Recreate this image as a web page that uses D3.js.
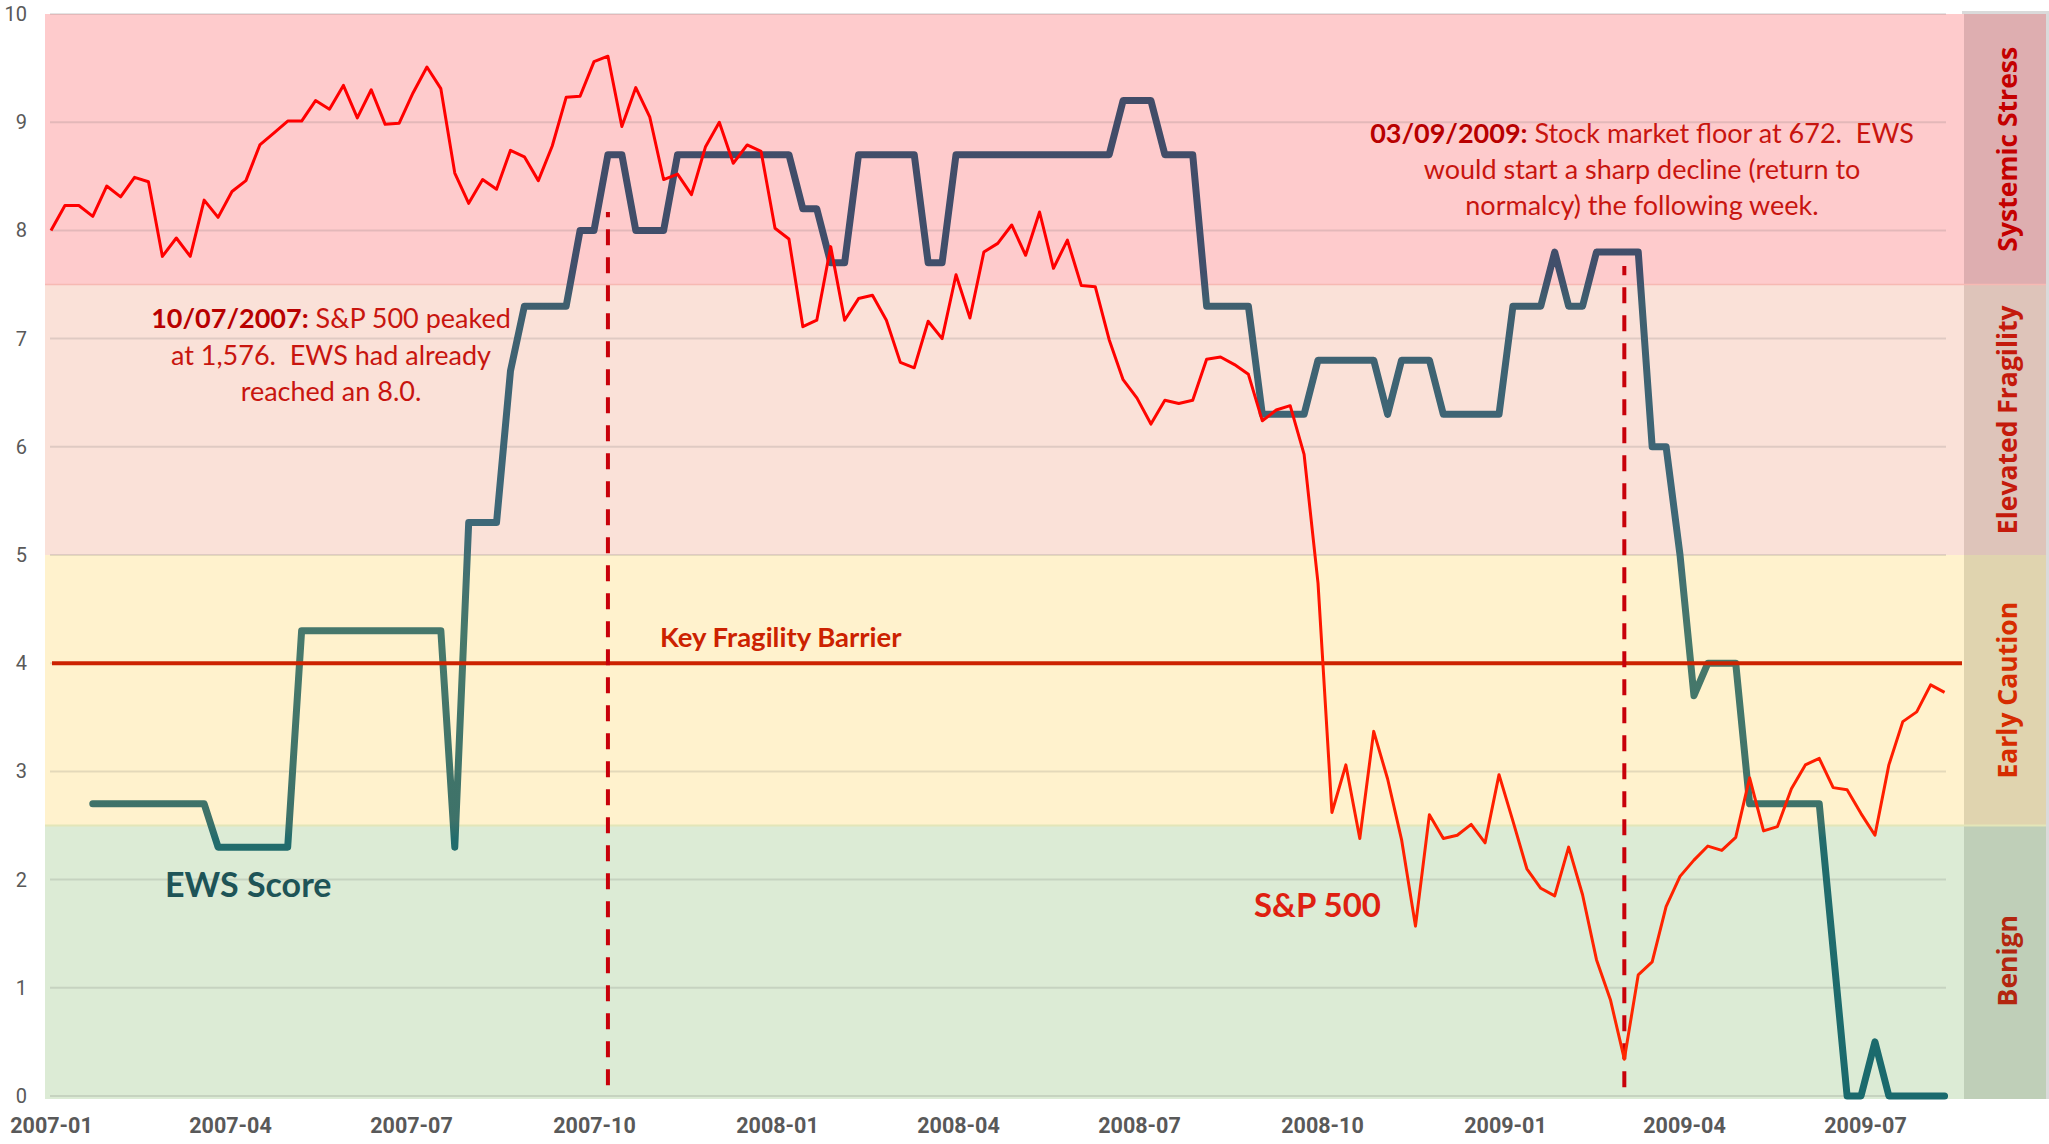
<!DOCTYPE html>
<html>
<head>
<meta charset="utf-8">
<script src="https://cdn.jsdelivr.net/npm/d3@7"></script>
<style>
  html, body { margin: 0; padding: 0; background: #ffffff; }
  svg { display: block; }
  text { white-space: pre; }
</style>
</head>
<body>
<svg id="chart" width="2049" height="1144"></svg>
<script>
// ---------------- DATA ----------------
const firstWeek = "2007-01-01";   // weekly observations start here

// S&P 500 (scaled to the 0-10 chart axis), one value per week
const sp500 = [
  8.00, 8.23, 8.23, 8.13, 8.41, 8.31, 8.49, 8.45, 7.76, 7.93,
  7.76, 8.28, 8.12, 8.36, 8.46, 8.79, 8.90, 9.01, 9.01, 9.20,
  9.12, 9.34, 9.04, 9.30, 8.98, 8.99, 9.27, 9.51, 9.31, 8.53,
  8.25, 8.47, 8.38, 8.74, 8.68, 8.46, 8.78, 9.23, 9.24, 9.56,
  9.61, 8.96, 9.32, 9.05, 8.47, 8.52, 8.33, 8.77, 9.00, 8.62,
  8.79, 8.73, 8.02, 7.92, 7.11, 7.17, 7.85, 7.17, 7.37, 7.40,
  7.17, 6.78, 6.73, 7.16, 7.00, 7.59, 7.19, 7.80, 7.88, 8.05,
  7.77, 8.17, 7.65, 7.91, 7.49, 7.48, 6.99, 6.62, 6.45, 6.21,
  6.43, 6.40, 6.43, 6.81, 6.83, 6.76, 6.67, 6.24, 6.34, 6.38,
  5.93, 4.74, 2.62, 3.06, 2.38, 3.37, 2.93, 2.37, 1.57, 2.60,
  2.38, 2.41, 2.51, 2.34, 2.97, 2.54, 2.10, 1.92, 1.85, 2.30,
  1.86, 1.26, 0.89, 0.34, 1.12, 1.24, 1.75, 2.03, 2.18, 2.31,
  2.27, 2.39, 2.94, 2.45, 2.49, 2.84, 3.06, 3.12, 2.85, 2.83,
  2.61, 2.41, 3.06, 3.46, 3.55, 3.80, 3.73
];

// EWS score, same weeks (null = not yet reported)
const ewsScore = [
  null, null, null,
  2.7, 2.7, 2.7, 2.7, 2.7, 2.7, 2.7, 2.7, 2.7,
  2.3, 2.3, 2.3, 2.3, 2.3, 2.3,
  4.3, 4.3, 4.3, 4.3, 4.3, 4.3, 4.3, 4.3, 4.3, 4.3, 4.3,
  2.3,
  5.3, 5.3, 5.3,
  6.7,
  7.3, 7.3, 7.3, 7.3,
  8.0, 8.0,
  8.7, 8.7,
  8.0, 8.0, 8.0,
  8.7, 8.7, 8.7, 8.7, 8.7, 8.7, 8.7, 8.7, 8.7,
  8.2, 8.2,
  7.7, 7.7,
  8.7, 8.7, 8.7, 8.7, 8.7,
  7.7, 7.7,
  8.7, 8.7, 8.7, 8.7, 8.7, 8.7, 8.7, 8.7, 8.7, 8.7, 8.7, 8.7,
  9.2, 9.2, 9.2,
  8.7, 8.7, 8.7,
  7.3, 7.3, 7.3, 7.3,
  6.3, 6.3, 6.3, 6.3,
  6.8, 6.8, 6.8, 6.8, 6.8,
  6.3,
  6.8, 6.8, 6.8,
  6.3, 6.3, 6.3, 6.3, 6.3,
  7.3, 7.3, 7.3,
  7.8,
  7.3, 7.3,
  7.8, 7.8, 7.8, 7.8,
  6.0, 6.0,
  5.0,
  3.7,
  4.0, 4.0, 4.0,
  2.7, 2.7, 2.7, 2.7, 2.7, 2.7,
  1.35,
  0, 0,
  0.5,
  0, 0, 0, 0, 0
];

// Zones
const zoneNames  = ["Benign", "Early Caution", "Elevated Fragility", "Systemic Stress"];
const zoneFrom   = [0, 2.5, 5, 7.5];
const zoneTo     = [2.5, 5, 7.5, 10];

// Axis ticks
const yTickValues  = [0, 1, 2, 3, 4, 5, 6, 7, 8, 9, 10];
const xTickLabels  = ["2007-01", "2007-04", "2007-07", "2007-10", "2008-01", "2008-04",
                      "2008-07", "2008-10", "2009-01", "2009-04", "2009-07"];

// Key fragility barrier
const barrierValue = 4;
const barrierLabel = "Key Fragility Barrier";

// Event markers (vertical dashed lines)
const eventDates   = ["2007-10-08", "2009-03-02"];
const eventTop     = [8.17, 7.67];
const eventBottom  = [0.10, 0.08];

// Annotations
const note1Bold  = "10/07/2007:";
const note1Lines = [" S&P 500 peaked", "at 1,576.  EWS had already", "reached an 8.0."];
const note2Bold  = "03/09/2009:";
const note2Lines = [" Stock market floor at 672.  EWS", "would start a sharp decline (return to", "normalcy) the following week."];

const seriesLabels = ["EWS Score", "S&P 500"];

// ---------------- STYLE ----------------
const zoneFill    = ["#dcebd5", "#fff2cd", "#fae1d8", "#fecbcc"];
const zoneColFill = ["#bfcfb8", "#e0d4af", "#dec4ba", "#deaeb0"];
const zoneText    = ["#b3260f", "#d62c00", "#c41a0c", "#c40000"];

const W = 2049, H = 1144;
const plotLeft = 45, plotRight = 1964, colRight = 2046;

const parse = d3.utcParse("%Y-%m-%d");
const parseMonth = d3.utcParse("%Y-%m");

const x = d3.scaleUtc()
  .domain([parse("2007-01-01"), parse("2009-07-01")])
  .range([51, 1865]);
const y = d3.scaleLinear().domain([0, 10]).range([1096, 14]);

const start = parse(firstWeek);
const weeks = sp500.map((_, i) => d3.utcDay.offset(start, 7 * i));

const svg = d3.select("#chart");
svg.append("rect").attr("width", W).attr("height", H).attr("fill", "#ffffff");

const defs = svg.append("defs");
// EWS vertical colour gradient
const ewsStops = [
  [0, "#1a6a6d"], [2.38, "#226c6c"], [2.55, "#3e7269"], [4.2, "#47796b"],
  [4.8, "#437270"], [5.3, "#3e6878"], [6.5, "#3e6474"], [7.35, "#3f5f6f"],
  [7.6, "#414f6b"], [10, "#424a66"]
];
const gEws = defs.append("linearGradient").attr("id", "ewsGrad")
  .attr("gradientUnits", "userSpaceOnUse")
  .attr("x1", 0).attr("x2", 0).attr("y1", y(0)).attr("y2", y(10));
gEws.selectAll("stop").data(ewsStops).join("stop")
  .attr("offset", d => d[0] / 10).attr("stop-color", d => d[1]);

const spStops = [[0, "#ff2a00"], [4, "#ff1a00"], [7, "#ff0000"], [10, "#ff0000"]];
const gSp = defs.append("linearGradient").attr("id", "spGrad")
  .attr("gradientUnits", "userSpaceOnUse")
  .attr("x1", 0).attr("x2", 0).attr("y1", y(0)).attr("y2", y(10));
gSp.selectAll("stop").data(spStops).join("stop")
  .attr("offset", d => d[0] / 10).attr("stop-color", d => d[1]);

// ---------------- ZONES ----------------
svg.append("rect").attr("x", 1962).attr("y", 11).attr("width", W - 1962).attr("height", y(0) + 3 - 11)
  .attr("fill", "#dadada");

const zones = zoneNames.map((n, i) => ({ name: n, from: zoneFrom[i], to: zoneTo[i], i }));
svg.append("g").selectAll("rect").data(zones).join("rect")
  .attr("x", plotLeft).attr("width", plotRight - plotLeft)
  .attr("y", d => y(d.to)).attr("height", d => y(d.from) - y(d.to) + (d.from === 0 ? 3 : 0))
  .attr("fill", d => zoneFill[d.i]);
svg.append("g").selectAll("rect").data(zones).join("rect")
  .attr("x", plotRight).attr("width", colRight - plotRight)
  .attr("y", d => y(d.to)).attr("height", d => y(d.from) - y(d.to) + (d.from === 0 ? 3 : 0))
  .attr("fill", d => zoneColFill[d.i]);

// subtle zone borders
svg.append("line").attr("x1", plotLeft).attr("x2", colRight)
  .attr("y1", y(7.5)).attr("y2", y(7.5)).attr("stroke", "#f7b9b3").attr("stroke-width", 1.5);
svg.append("line").attr("x1", plotLeft).attr("x2", colRight)
  .attr("y1", y(2.5)).attr("y2", y(2.5)).attr("stroke", "#e3e6b8").attr("stroke-width", 2);

// gridlines
svg.append("g").selectAll("line").data(yTickValues).join("line")
  .attr("x1", 50).attr("x2", 1946)
  .attr("y1", d => y(d)).attr("y2", d => y(d))
  .attr("stroke", "rgba(90,90,90,0.16)").attr("stroke-width", 2);

// zone labels in side column
svg.append("g").selectAll("text").data(zones).join("text")
  .attr("transform", d => `translate(2007,${(y(d.from) + y(d.to)) / 2}) rotate(-90)`)
  .attr("text-anchor", "middle").attr("dominant-baseline", "central")
  .attr("font-family", "'Open Sans', sans-serif").attr("font-weight", 700)
  .attr("font-size", 26.5).attr("fill", d => zoneText[d.i])
  .text(d => d.name);

// ---------------- AXES ----------------
const yAxis = d3.axisLeft(y).tickValues(yTickValues).tickSize(0).tickPadding(0);
const gy = svg.append("g").attr("transform", "translate(27,0)").call(yAxis);
gy.select(".domain").remove();
gy.selectAll("text").attr("font-family", "Roboto, sans-serif").attr("font-size", 20)
  .attr("fill", "#595959");

const xAxis = d3.axisBottom(x)
  .tickValues(xTickLabels.map(s => parseMonth(s)))
  .tickFormat(d3.utcFormat("%Y-%m")).tickSize(0).tickPadding(0);
const gx = svg.append("g").attr("transform", "translate(0,1118)").call(xAxis);
gx.select(".domain").remove();
gx.selectAll("text").attr("font-family", "Roboto, sans-serif").attr("font-size", 21.5)
  .attr("font-weight", 700).attr("fill", "#595959");

// ---------------- SERIES ----------------
const ewsData = weeks.map((d, i) => ({ date: d, v: ewsScore[i] }));
const spData  = weeks.map((d, i) => ({ date: d, v: sp500[i] }));

const line = d3.line().defined(d => d.v !== null && d.v !== undefined)
  .x(d => x(d.date)).y(d => y(d.v));

svg.append("path").datum(ewsData).attr("d", line)
  .attr("fill", "none").attr("stroke", "url(#ewsGrad)").attr("stroke-width", 7)
  .attr("stroke-linejoin", "round").attr("stroke-linecap", "round");

// barrier
svg.append("line").attr("x1", 52).attr("x2", 1962)
  .attr("y1", y(barrierValue)).attr("y2", y(barrierValue))
  .attr("stroke", "#cc2200").attr("stroke-width", 4);
svg.append("text").attr("x", 660).attr("y", 646.5)
  .attr("font-family", "Lato, sans-serif").attr("font-weight", 700).attr("font-size", 27.5)
  .attr("fill", "#cc2200").text(barrierLabel);

// event markers
const events = eventDates.map((d, i) => ({ date: parse(d), top: eventTop[i], bottom: eventBottom[i] }));
svg.append("g").selectAll("line").data(events).join("line")
  .attr("x1", d => x(d.date)).attr("x2", d => x(d.date))
  .attr("y1", d => y(d.bottom)).attr("y2", d => y(d.top))
  .attr("stroke", "#c8000a").attr("stroke-width", 4)
  .attr("stroke-dasharray", "16,12");

svg.append("path").datum(spData).attr("d", line)
  .attr("fill", "none").attr("stroke", "url(#spGrad)").attr("stroke-width", 3)
  .attr("stroke-linejoin", "round");

// ---------------- TEXT ----------------
function note(cx, baselines, boldPart, lines) {
  const g = svg.append("g").attr("font-family", "Lato, sans-serif").attr("font-size", 27)
    .attr("text-anchor", "middle");
  lines.forEach((ln, i) => {
    const t = g.append("text").attr("x", cx).attr("y", baselines[i]).attr("fill", "#c8150f");
    if (i === 0) {
      t.append("tspan").attr("font-weight", 700).attr("fill", "#b80000").text(boldPart);
    }
    t.append("tspan").text(ln);
  });
}
note(331, [328, 364.5, 401], note1Bold, note1Lines);
note(1642, [143, 179, 215], note2Bold, note2Lines);

svg.append("text").attr("x", 165).attr("y", 896.5)
  .attr("font-family", "Lato, sans-serif").attr("font-weight", 700).attr("font-size", 34)
  .attr("fill", "#1e5457").text(seriesLabels[0]);
svg.append("text").attr("x", 1254).attr("y", 916.5)
  .attr("font-family", "Lato, sans-serif").attr("font-weight", 700).attr("font-size", 33)
  .attr("fill", "#df2010").text(seriesLabels[1]);
</script>
</body>
</html>
